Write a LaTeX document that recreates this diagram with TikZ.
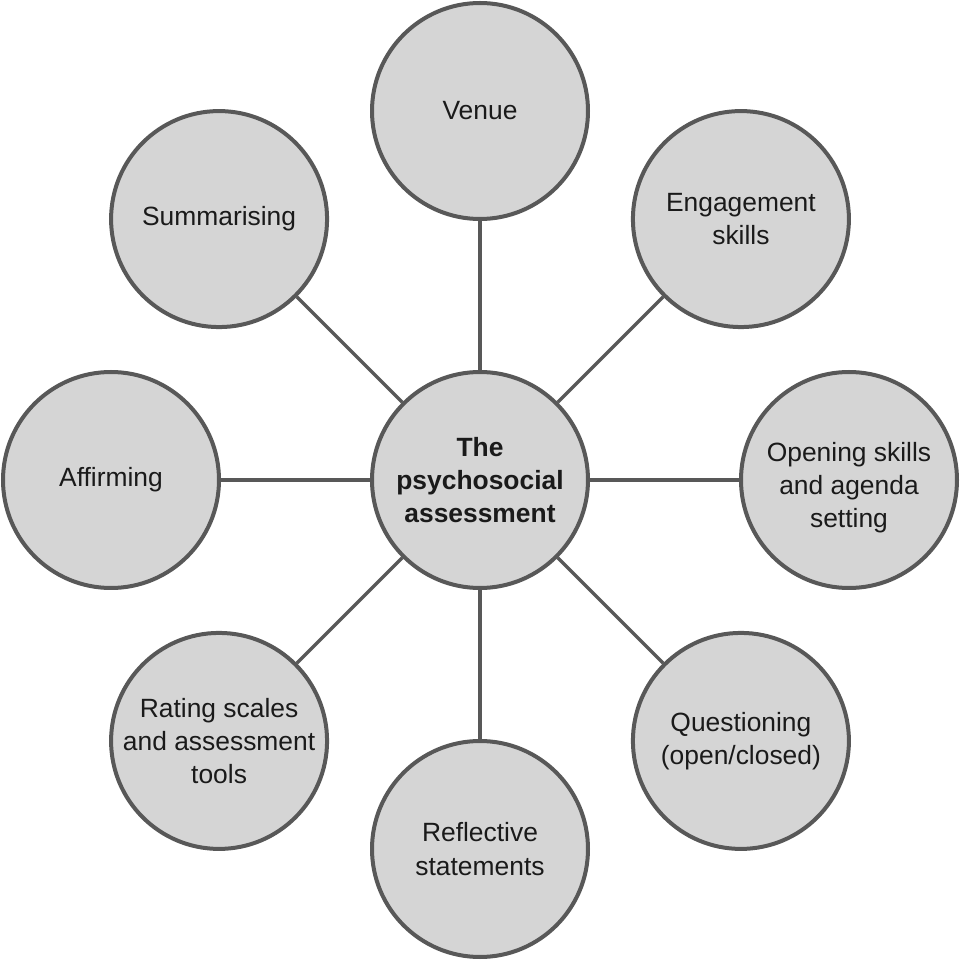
\documentclass[tikz,border=0pt]{standalone}
\usepackage{fontspec}
\setmainfont{Liberation Sans}
\usetikzlibrary{calc}
\definecolor{ringgray}{HTML}{585858}
\definecolor{fillgray}{HTML}{D5D5D5}
\definecolor{txtgray}{HTML}{1A1A1A}
\begin{document}
\begin{tikzpicture}[x=1pt,y=1pt,
  bubble/.style={circle,draw=ringgray,fill=fillgray,line width=2pt,minimum size=108pt,inner sep=0pt,align=center,text=txtgray,font=\fontsize{13.2}{16.6}\selectfont},
  spoke/.style={draw=ringgray,line width=1.6pt}]
\useasboundingbox (0,0) rectangle (480,480);
\node[bubble,font=\fontsize{13.2}{16.6}\selectfont\bfseries] (c) at (240,240) {The\\psychosocial\\assessment};
\node[bubble] (venue) at (240,424.5) {Venue};
\node[bubble] (eng) at ($(240,240)+(45:184.5)$) {Engagement\\skills};
\node[bubble] (open) at (424.5,240) {\rule{0pt}{17.5pt}Opening skills\\and agenda\\setting};
\node[bubble] (quest) at ($(240,240)+(-45:184.5)$) {Questioning\\(open/closed)};
\node[bubble] (refl) at (240,55.5) {Reflective\\statements};
\node[bubble] (rate) at ($(240,240)+(-135:184.5)$) {Rating scales\\and assessment\\tools};
\node[bubble] (aff) at (55.5,240) {Affirming};
\node[bubble] (summ) at ($(240,240)+(135:184.5)$) {Summarising};
\foreach \n in {venue,eng,open,quest,refl,rate,aff,summ}
  \path[spoke] (c) -- (\n);
\end{tikzpicture}
\end{document}
